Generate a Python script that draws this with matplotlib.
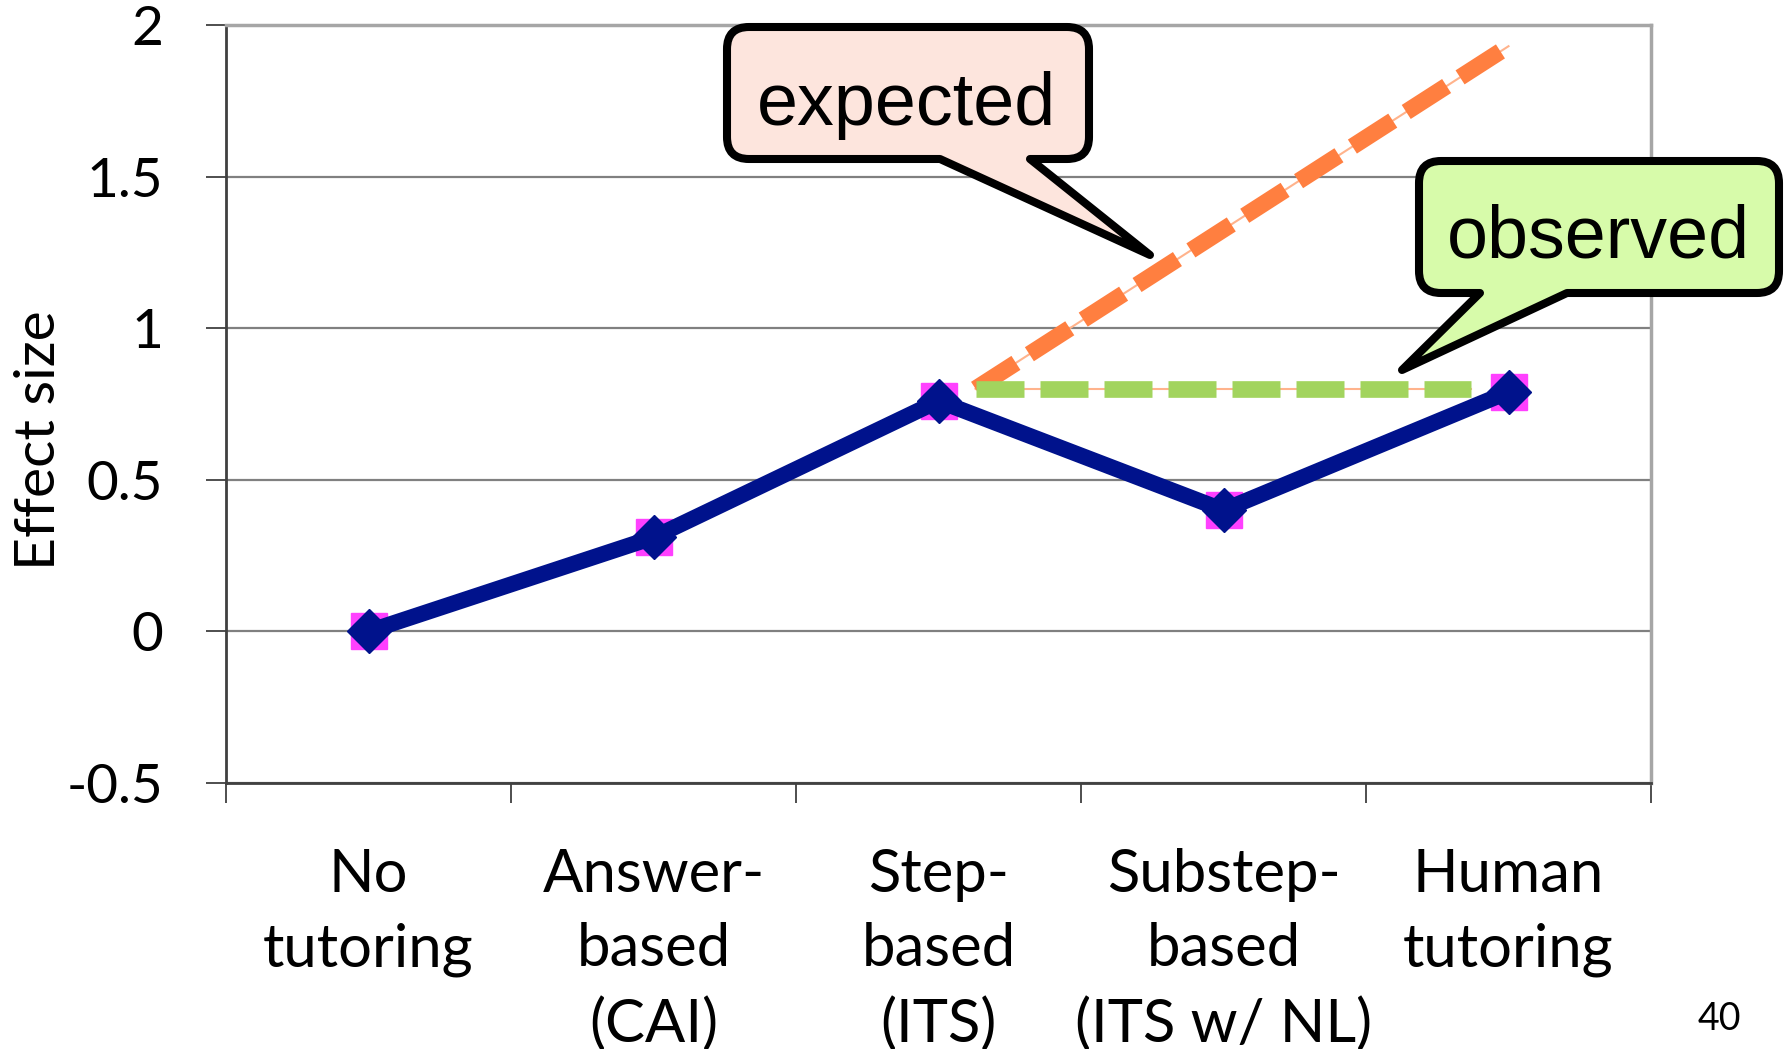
import matplotlib
matplotlib.use("Agg")
import matplotlib.pyplot as plt
from matplotlib.path import Path
from matplotlib.patches import PathPatch
from matplotlib.ticker import FixedLocator, FixedFormatter, NullFormatter

W, H = 1786, 1049

categories = ['No\ntutoring', 'Answer-\nbased\n(CAI)', 'Step-\nbased\n(ITS)',
              'Substep-\nbased\n(ITS w/ NL)', 'Human\ntutoring']
effect = [0.0, 0.31, 0.76, 0.40, 0.79]

# projected vs. actual gain after step-based tutoring
expected_x = [2.13, 4.0]
expected_y = [0.80, 1.93]
observed_x = [2.13, 3.87]
observed_y = [0.80, 0.80]

yticks = [-0.5, 0, 0.5, 1, 1.5, 2]
ytick_labels = ['-0.5', '0', '0.5', '1', '1.5', '2']

navy = '#00128C'
magenta = '#FF40FF'
orange = '#FF7F40'
green = '#A2D45E'


def fig_xy(x, y):
    # pixel position (y measured from the top) -> figure fraction
    return x / W, 1 - y / H


def callout(fig, left, top, right, bottom, r, base_l, base_r, tip, face):
    pts = [
        (Path.MOVETO, (left + r, top)),
        (Path.LINETO, (right - r, top)),
        (Path.CURVE3, (right, top)), (Path.CURVE3, (right, top + r)),
        (Path.LINETO, (right, bottom - r)),
        (Path.CURVE3, (right, bottom)), (Path.CURVE3, (right - r, bottom)),
        (Path.LINETO, (base_r, bottom)),
        (Path.LINETO, tip),
        (Path.LINETO, (base_l, bottom)),
        (Path.LINETO, (left + r, bottom)),
        (Path.CURVE3, (left, bottom)), (Path.CURVE3, (left, bottom - r)),
        (Path.LINETO, (left, top + r)),
        (Path.CURVE3, (left, top)), (Path.CURVE3, (left + r, top)),
        (Path.CLOSEPOLY, (left + r, top)),
    ]
    codes = [c for c, _ in pts]
    verts = [fig_xy(*v) for _, v in pts]
    patch = PathPatch(Path(verts, codes), facecolor=face, edgecolor='black',
                      lw=5.8, joinstyle='round', transform=fig.transFigure,
                      zorder=10)
    fig.add_artist(patch)


fig = plt.figure(figsize=(W / 100, H / 100), dpi=100)
ax = fig.add_axes([226 / W, 1 - 783 / H, (1651 - 226) / W, (783 - 25) / H])

xs = range(len(effect))

ax.set_xlim(-0.5, 4.5)
ax.set_ylim(-0.5, 2)
ax.set_yticks(yticks)
ax.set_yticklabels(ytick_labels)
ax.yaxis.grid(True, color='#808080', lw=1.6)
ax.set_axisbelow(True)

# thin guide lines under the dashed ones
ax.plot(expected_x, expected_y, color='#FFB38C', lw=1.5, zorder=2)
ax.plot(observed_x, observed_y, color='#FFB38C', lw=1.5, zorder=2)
ax.plot(expected_x, expected_y, color=orange, lw=12, dashes=(2.88, 0.96),
        solid_capstyle='butt', dash_capstyle='butt', zorder=3)
ax.plot(observed_x, observed_y, color=green, lw=12, dashes=(2.88, 0.96),
        dash_capstyle='butt', zorder=3)

ax.plot(xs, effect, ls='none', marker='s', ms=26.6, color=magenta,
        mec=magenta, zorder=4)
ax.plot(xs, effect, color=navy, lw=11.5, marker='D', ms=22.5, mec=navy,
        mew=1, zorder=5, solid_joinstyle='miter')

for side in ['top', 'right']:
    ax.spines[side].set_color('#A6A6A6')
    ax.spines[side].set_linewidth(2.5)
for side in ['left', 'bottom']:
    ax.spines[side].set_color('#404040')
    ax.spines[side].set_linewidth(2)

ax.xaxis.set_major_locator(FixedLocator([-0.5, 0.5, 1.5, 2.5, 3.5, 4.5]))
ax.xaxis.set_major_formatter(NullFormatter())
ax.xaxis.set_minor_locator(FixedLocator(list(xs)))
ax.xaxis.set_minor_formatter(FixedFormatter(categories))
ax.tick_params(axis='x', which='major', direction='out', length=14.4,
               width=1.3, color='#404040')
ax.tick_params(axis='x', which='minor', length=0, pad=47)
ax.tick_params(axis='y', direction='out', length=14.4, width=1.3,
               color='#404040', pad=31, labelsize=39.5)

for lab in ax.get_yticklabels():
    lab.set_family('Lato')
for lab in ax.xaxis.get_minorticklabels():
    lab.set_family('Lato')
    lab.set_fontsize(43)
    lab.set_linespacing(1.45)
    lab.set_multialignment('center')

fig.text(*fig_xy(40, 440), 'Effect size', rotation=90, ha='center',
         va='center', fontsize=41, family='Lato')

callout(fig, 727, 27, 1089, 159, 22, 940, 1030, (1150, 255), '#FDE5DD')
callout(fig, 1419, 161, 1779, 293, 22, 1480, 1567, (1402, 370), '#D7FBAA')
fig.text(*fig_xy(907, 125), 'expected', ha='center', va='baseline',
         fontsize=53, family='Liberation Sans', zorder=11)
fig.text(*fig_xy(1598, 258), 'observed', ha='center', va='baseline',
         fontsize=53, family='Liberation Sans', zorder=11)

fig.text(*fig_xy(1741, 1030), '40', ha='right', va='baseline',
         fontsize=27, family='Lato')

fig.savefig('out.png', dpi=100, facecolor='white')
